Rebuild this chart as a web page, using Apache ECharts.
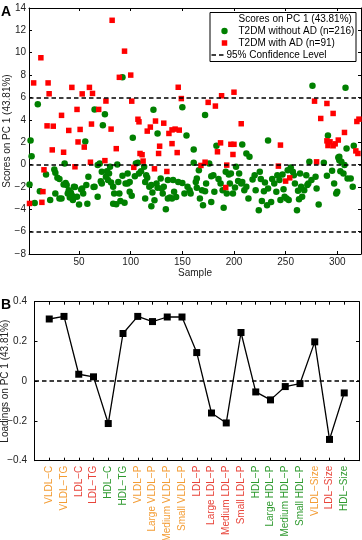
<!DOCTYPE html>
<html>
<head>
<meta charset="utf-8">
<script src="https://cdn.jsdelivr.net/npm/echarts@6/dist/echarts.min.js"></script>
<style>
	html, body { margin: 0; padding: 0; background: #fff; }
	#chart { width: 362px; height: 540px; }
</style>
</head>
<body>
<div id="chart"></div>
<script>
// panel A : scores on PC 1, [sample, score]
var withoutAD = [
	[3, 2.15], [4, 0.75], [10, 5.4], [56, 2.05], [65, 4.93], [73, 3.52], [75, 4.5], [92, 7.8], [102, 2.39],
	[122, 4.9], [126, 2.78], [150, 5.13], [154, 2.6], [161, 1.35], [172, 4.42], [183, 1.68], [208, 1.8],
	[233, 2.15], [276, 7.04], [291, 2.6], [308, 6.86], [309, 1.44], [316, 1.68], [302, 0.69], [212, 0.99], [215, 0.69],
	[2, -1.78], [7, -3.45], [12, -2.38], [18, -0.88], [22, -3.18], [26, -0.44], [27, -0.74], [27, -2.59], [29, -1.19],
	[31, -1.3], [31, -3.03], [33, -3.03], [35, -1.78], [36, 0.1], [37, -1.64], [38, -1.84], [39, -2.59], [40, -2.29],
	[41, -2.94], [42, -2.5], [43, -2.74], [44, -2.94], [44, -3.18], [45, -1.99], [48, -2.89], [50, -3.57], [52, -2.23],
	[54, -2.59], [57, -1.84], [58, -3.5], [59, -1.1], [65, -1.99], [68, -2.89], [68, -0.05], [70, 0.1], [72, -0.65],
	[72, -1.69], [76, -1.1], [78, -1.39], [79, -0.8], [80, -0.2], [81, -1.6], [83, -3.5], [86, -3.54], [83, -1.99],
	[87, 0.0], [88, -1.55], [89, -2.59], [90, -3.27], [94, -3.42], [95, -1.69], [97, -0.8], [97, -1.69], [99, -2.44],
	[99, -1.55], [104, -1.04], [105, 0.1], [107, 0.15], [108, -0.8], [113, -0.2], [114, -1.55], [115, -0.95], [116, -1.19],
	[118, -1.99], [120, -1.84], [114, -3.03], [120, -3.72], [121, -2.5], [125, -1.69], [126, -2.08], [129, -1.24],
	[130, -2.14], [132, -1.99], [134, -3.99], [136, -3.03], [138, -2.94], [140, -3.03], [142, -2.44], [146, -1.55],
	[141, -1.39], [136, -1.39],
	[150, -1.64], [152, -2.59], [155, -1.99], [158, -2.59], [161, 0.15], [164, -1.24], [163, -1.55], [164, -2.08],
	[167, -3.03], [170, -3.63], [169, -2.29], [173, -1.69], [172, -2.38], [176, 0.1], [178, -3.34], [178, -1.04],
	[180, -0.95], [181, -2.44], [187, -1.69], [189, -2.29], [190, -3.87], [195, -0.89], [197, -0.8], [196, -1.69],
	[199, -2.59], [201, -2.05], [202, -0.2], [204, -1.48], [205, -0.8], [207, -1.69], [208, -1.55], [210, -2.29],
	[212, -1.99], [214, -3.03], [218, -1.33], [220, -0.95], [221, -2.29], [224, -4.08], [225, -0.65], [227, -3.25],
	[229, -2.38], [230, -1.6], [232, -3.63], [233, -2.14], [236, -3.34], [237, -1.3], [239, -1.69], [241, -2.44],
	[242, -0.95], [244, -1.39], [245, -3.18], [247, -0.89], [249, -2.89], [251, -3.03], [252, -0.5], [253, -3.18],
	[255, -0.26], [257, -0.65], [258, -0.95], [259, -1.69], [261, -4.08], [262, -2.35], [264, -0.8], [265, -1.99],
	[266, -2.89], [268, -2.29], [270, -0.95], [271, -1.84], [272, -1.69], [273, 0.24], [275, -1.39], [279, -1.1],
	[280, -2.14], [282, -3.57], [287, 0.15], [290, -1.01], [295, -0.56], [297, -1.69], [299, -2.59], [300, -2.44],
	[301, 0.63], [302, 0.39], [304, 0.24], [307, -0.05], [303, -0.59], [306, -0.8], [313, -1.24], [315, -1.99],
	[310, -1.24], [192, -0.65],
	[46, -2.0], [53, -2.14], [64, -2.0], [71, -1.5], [77, -0.6], [84, -2.6], [92, -1.0], [101, -2.8], [110, -0.6],
	[123, -3.2], [131, -2.6], [144, -2.9], [157, -2.3], [166, -0.5], [185, -1.3], [193, -2.6], [226, -1.3],
	[248, -2.2], [263, -3.1]
];
var withAD = [
	[2, -3.48], [6, 7.3], [13, 9.55], [14, -3.38], [15, -2.42], [16, -0.47], [19, 3.46], [20, 7.3], [21, 6.33],
	[24, 1.31], [25, 3.43], [33, 4.4], [35, 1.1], [40, 3.05], [43, 6.9], [46, -0.2], [48, 4.93], [49, 2.02],
	[51, 3.14], [53, 6.32], [55, 1.56], [60, 6.9], [61, 0.21], [62, 3.62], [63, 6.36], [69, 4.93], [75, 0.35],
	[76, 5.68], [81, 3.17], [82, 12.9], [86, 1.42], [89, 7.8], [94, 10.14], [100, 8.0], [101, 5.67], [103, -0.25],
	[107, 4.05], [108, 3.82], [109, 0.99], [111, 0.88], [112, 0.31], [116, 2.99], [119, 3.35], [123, -0.38],
	[124, 3.89], [127, 0.99], [128, 1.64], [132, 3.7], [135, -0.62], [137, 2.78], [140, 1.87], [140, 3.1],
	[143, 3.17], [145, 1.07], [146, 6.91], [147, 3.08], [149, 5.9], [168, -0.08], [172, 0.21], [175, 5.56],
	[182, 5.23], [184, 1.14], [187, 1.94], [188, 6.15], [192, -2.05], [193, -0.05], [197, 1.81], [199, 0.9],
	[200, 1.81], [200, 6.47], [207, 3.65], [243, -0.14], [245, 1.74], [250, -1.48], [254, -1.19], [278, 5.67],
	[280, 0.24], [284, 4.12], [290, 5.46], [290, 2.12], [293, 2.03], [296, 1.68], [298, 1.85], [296, 4.57],
	[301, 2.19], [307, 2.87], [318, 1.22], [319, 3.85], [320, 0.99], [321, 4.06], [291, 1.7]
];
var confLevels = [6, 0, -6];
var sampleTicks = [50, 100, 150, 200, 250, 300];

// panel B : loadings on PC 1
var loadingNames = ["VLDL-C", "VLDL-TG", "LDL-C", "LDL-TG", "HDL-C", "HDL-TG", "VLDL-P", "Large VLDL-P",
	"Medium VLDL-P", "Small VLDL-P", "LDL-P", "Large LDL-P", "Medium LDL-P", "Small LDL-P", "HDL-P",
	"Large HDL-P", "Medium HDL-P", "Small HDL-P", "VLDL-Size", "LDL-Size", "HDL-Size"];
var loadingValues = [0.313, 0.326, 0.035, 0.022, -0.213, 0.24, 0.326, 0.30, 0.323, 0.323, 0.144, -0.16,
	-0.21, 0.245, -0.054, -0.094, -0.027, -0.012, 0.198, -0.293, -0.059];

var FONT = "Liberation Sans";

function minus(v) { //负号
	return String(v).replace("-", "\u2212");
}

function nameColor(name) { //标签颜色
	if(name.indexOf("VLDL") >= 0) return "#f39c34";
	if(name.indexOf("LDL") >= 0) return "#e8443a";
	return "#2f9a2f";
}

function boxAxis(gi, pos, extra) {
	var ax = {
		gridIndex: gi,
		position: pos,
		axisLine: { show: true, onZero: false, lineStyle: { color: "#000", width: 1 } },
		axisTick: { show: true, inside: true, length: 3, lineStyle: { color: "#000" } },
		axisLabel: { show: false },
		splitLine: { show: false },
		nameMoveOverlap: false
	};
	for(var k in extra) ax[k] = extra[k];
	return ax;
}

var loadData = [];
for(var i = 0; i < loadingValues.length; i++) {
	loadData.push([i + 1, loadingValues[i]]);
}
var richColors = {};
for(var j = 0; j < loadingNames.length; j++) {
	richColors["c" + j] = { color: nameColor(loadingNames[j]), fontFamily: FONT, fontSize: 10 };
}

var dash = { type: [4.5, 3], color: "#000", width: 1.5 };

var chart = echarts.init(document.getElementById("chart"), null, { renderer: "canvas" });
var option = {
	animation: false,
	textStyle: { fontFamily: FONT },
	grid: [
		{ left: 29, top: 8, width: 332, height: 246, outerBoundsMode: "none", containLabel: false },
		{ left: 34.5, top: 301.7, width: 324.5, height: 159, outerBoundsMode: "none", containLabel: false }
	],
	xAxis: [
		boxAxis(0, "bottom", {
			type: "value", min: 1.5, max: 323,
			axisTick: { show: true, inside: true, length: 3, lineStyle: { color: "#000" }, customValues: sampleTicks },
			axisLabel: { show: true, customValues: sampleTicks, color: "#222", fontSize: 10, margin: 3, fontFamily: FONT },
			name: "Sample", nameLocation: "middle", nameGap: 14,
			nameTextStyle: { color: "#222", fontSize: 10, fontFamily: FONT }
		}),
		boxAxis(0, "top", {
			type: "value", min: 1.5, max: 323,
			axisTick: { show: true, inside: true, length: 3, lineStyle: { color: "#000" }, customValues: sampleTicks },
			axisLabel: { show: false, customValues: sampleTicks }
		}),
		boxAxis(1, "bottom", {
			type: "value", min: 0, max: 22, interval: 1,
			axisLabel: {
				show: true, rotate: 90, margin: 5, fontSize: 10, fontFamily: FONT,
				formatter: function(v) {
					var n = loadingNames[v - 1];
					return n ? "{c" + (v - 1) + "|" + minus(n) + "}" : "";
				},
				rich: richColors
			}
		}),
		boxAxis(1, "top", { type: "value", min: 0, max: 22, interval: 1 })
	],
	yAxis: [
		boxAxis(0, "left", {
			type: "value", min: -8, max: 14, interval: 2,
			axisLabel: { show: true, color: "#222", fontSize: 10, margin: 3, fontFamily: FONT, formatter: minus },
			name: "Scores on PC 1 (43.81%)", nameLocation: "middle", nameGap: 17,
			nameTextStyle: { color: "#222", fontSize: 10, fontFamily: FONT }
		}),
		boxAxis(0, "right", { type: "value", min: -8, max: 14, interval: 2 }),
		boxAxis(1, "left", {
			type: "value", min: -0.4, max: 0.4, interval: 0.2,
			axisLabel: { show: true, color: "#222", fontSize: 10, margin: 7.5, fontFamily: FONT, formatter: minus },
			name: "Loadings on PC 1 (43.81%)", nameLocation: "middle", nameGap: 24,
			nameTextStyle: { color: "#222", fontSize: 10, fontFamily: FONT }
		}),
		boxAxis(1, "right", { type: "value", min: -0.4, max: 0.4, interval: 0.2 })
	],
	series: [{
		name: "T2DM without AD (n=216)",
		type: "scatter",
		xAxisIndex: 0, yAxisIndex: 0,
		symbol: "circle", symbolSize: 6.5,
		itemStyle: { color: "#008000", opacity: 1 },
		data: withoutAD,
		markLine: {
			silent: true, symbol: "none",
			label: { show: false },
			lineStyle: dash,
			data: confLevels.map(function(c) { return { yAxis: c }; })
		},
		z: 2
	}, {
		name: "T2DM with AD (n=91)",
		type: "scatter",
		xAxisIndex: 0, yAxisIndex: 0,
		symbol: "rect", symbolSize: 5.5,
		itemStyle: { color: "#ff0000", opacity: 1 },
		data: withAD,
		z: 3
	}, {
		name: "Loadings",
		type: "line",
		xAxisIndex: 2, yAxisIndex: 2,
		symbol: "rect", symbolSize: 7,
		showAllSymbol: true,
		lineStyle: { color: "#000", width: 1.3 },
		itemStyle: { color: "#000" },
		data: loadData,
		markLine: {
			silent: true, symbol: "none",
			label: { show: false },
			lineStyle: dash,
			data: [{ yAxis: 0 }]
		}
	}],
	graphic: [
		{ type: "text", left: 1, top: 5, style: { text: "A", font: "bold 14px " + FONT, fill: "#000" } },
		{ type: "text", left: 1, top: 298, style: { text: "B", font: "bold 14px " + FONT, fill: "#000" } },
		{
			type: "group", left: 209, top: 12,
			children: [
				{ type: "rect", shape: { x: 0.5, y: 0.5, width: 146, height: 49 }, style: { fill: "#fff", stroke: "#000", lineWidth: 1 } },
				{ type: "text", x: 29, y: 7, style: { text: "Scores on PC 1 (43.81%)", font: "10px " + FONT, fill: "#000", textVerticalAlign: "middle" } },
				{ type: "circle", shape: { cx: 15, cy: 19, r: 3.2 }, style: { fill: "#008000" } },
				{ type: "text", x: 29, y: 19, style: { text: "T2DM without AD (n=216)", font: "10px " + FONT, fill: "#000", textVerticalAlign: "middle" } },
				{ type: "rect", shape: { x: 12.25, y: 28.25, width: 5.5, height: 5.5 }, style: { fill: "#ff0000" } },
				{ type: "text", x: 29, y: 31, style: { text: "T2DM with AD (n=91)", font: "10px " + FONT, fill: "#000", textVerticalAlign: "middle" } },
				{ type: "line", shape: { x1: 2, y1: 43, x2: 17, y2: 43 }, style: { stroke: "#000", lineWidth: 1.5, lineDash: [4.5, 3] } },
				{ type: "text", x: 17, y: 43, style: { text: "95% Confidence Level", font: "10px " + FONT, fill: "#000", textVerticalAlign: "middle" } }
			]
		}
	]
};
chart.setOption(option);
</script>
</body>
</html>
